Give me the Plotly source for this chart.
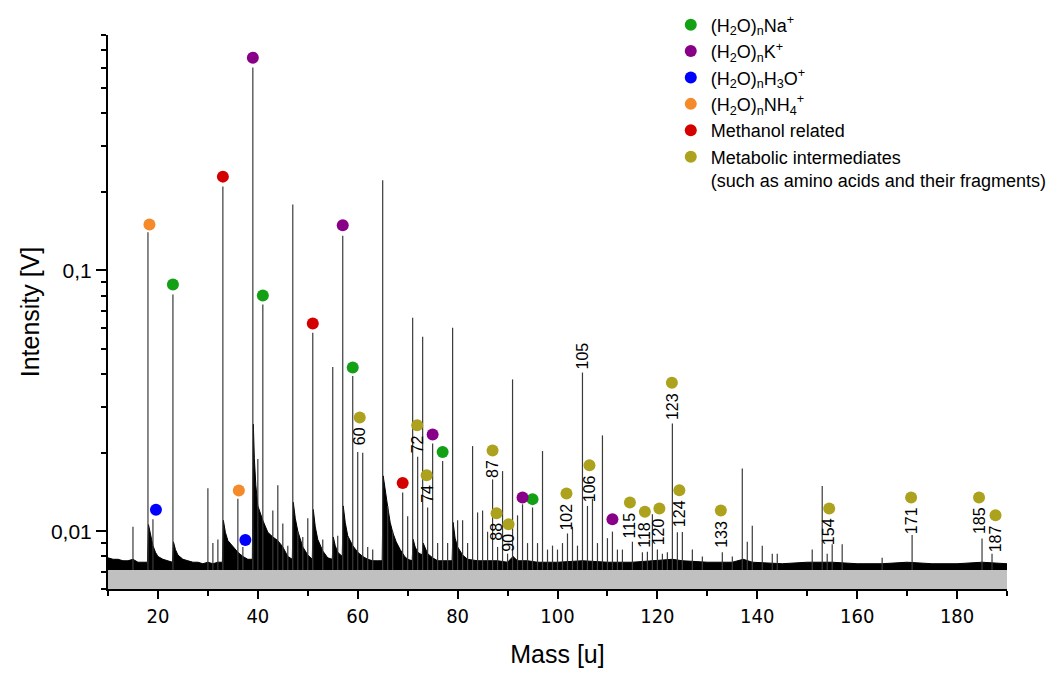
import numpy as np
import plotly.graph_objects as go

# ---------------- data ----------------
# peak list (mass [u], intensity [V])
peak_mass = [15, 18, 19, 23, 30, 31, 32, 33, 36, 37, 39, 40, 41, 43, 44, 45, 46, 47, 48, 49, 50,
             51, 53, 55, 56, 57, 58, 59, 60, 61, 62, 63, 65, 66, 67, 69, 70, 71, 72, 73, 74, 75,
             76, 77, 78, 79, 80, 81, 82, 83, 84, 85, 86, 87, 88, 89, 90, 91, 92, 93, 94, 95, 96,
             97, 98, 99, 100, 101, 102, 103, 104, 105, 106, 107, 108, 109, 110, 111, 112, 113,
             115, 117, 118, 119, 120, 121, 122, 123, 124, 125, 127, 129, 133, 135, 137, 138, 139,
             141, 143, 144, 151, 153, 154, 155, 157, 165, 171, 185, 187]
peak_int = [0.0104, 0.140, 0.0111, 0.0809, 0.0146, 0.0090, 0.0093, 0.210, 0.0133, 0.0087, 0.601,
            0.0189, 0.0741, 0.0120, 0.0150, 0.0107, 0.0088, 0.179, 0.0100, 0.0095, 0.0112,
            0.0577, 0.0093, 0.0426, 0.0096, 0.136, 0.0095, 0.0394, 0.0201, 0.0200, 0.0087, 0.0085,
            0.222, 0.0125, 0.0100, 0.01406, 0.0114, 0.0659, 0.0193, 0.0557, 0.01233, 0.0217,
            0.0090, 0.0186, 0.0090, 0.0603, 0.0110, 0.0110, 0.0090, 0.0212, 0.0118, 0.0120, 0.00995,
            0.0158, 0.0087, 0.0170, 0.0082, 0.0382, 0.0115, 0.01268, 0.0090, 0.01233, 0.0090,
            0.0203, 0.0085, 0.0088, 0.0085, 0.0090, 0.0098, 0.0104, 0.0088, 0.0406, 0.0125, 0.0133,
            0.0090, 0.0233, 0.0094, 0.00996, 0.0085, 0.0085,
            0.00911, 0.0083, 0.00834, 0.0116, 0.00851, 0.0082, 0.0083, 0.0259, 0.0099, 0.00993,
            0.0085, 0.0080, 0.0083, 0.0080, 0.01738, 0.0091, 0.0105,
            0.0088, 0.0082, 0.0082, 0.0085, 0.0149, 0.0082, 0.0089, 0.0089, 0.0079, 0.00966,
            0.00937, 0.0082]

# noise floor / decay tails envelope (mass, intensity)
env_mass = [10, 11, 12, 13, 14, 15, 16, 17, 17.9,
            18.1, 18.5, 19, 19.5, 20, 21, 22, 22.9,
            23.1, 23.5, 24, 25, 26, 27, 28, 29, 30, 31, 32, 32.9,
            33.1, 33.5, 34, 35, 36, 37, 38, 38.9,
            39.1, 39.3, 39.6, 40, 40.5, 41, 42, 43, 44, 45, 46, 46.9,
            47.1, 47.5, 48, 49, 50, 50.9,
            51.1, 51.5, 52, 53, 54, 54.9,
            55.1, 55.5, 56, 56.9,
            57.1, 57.5, 58, 59, 60, 61, 62, 63, 64, 64.9,
            65.1, 65.5, 66, 66.5, 67, 67.7, 68.5, 69.4, 70, 70.9,
            71.1, 71.5, 72, 72.9, 73.1, 74, 75, 76, 77, 78, 78.9,
            79.1, 79.5, 80, 81, 82, 84, 86, 88, 90, 91.1, 92, 94, 96, 98, 100, 105, 110,
            115, 120, 123, 125, 130, 135, 137.2, 139, 145, 150, 155, 160, 165, 170, 175,
            180, 185, 190]
env_int = [0.0079, 0.0078, 0.0078, 0.0077, 0.0077, 0.0078, 0.0076, 0.0076, 0.0076,
           0.0106, 0.0096, 0.0088, 0.0083, 0.0080, 0.0078, 0.0077, 0.0076,
           0.0091, 0.0085, 0.0081, 0.0078, 0.0077, 0.0076, 0.0076, 0.0075, 0.0076, 0.0075, 0.0076, 0.0076,
           0.0110, 0.0099, 0.0092, 0.0087, 0.0083, 0.0080, 0.0078, 0.0078,
           0.0257, 0.0190, 0.0150, 0.0125, 0.0116, 0.0110, 0.0099, 0.0095, 0.0092, 0.0087, 0.0080, 0.0078,
           0.0129, 0.0112, 0.0100, 0.0087, 0.0081, 0.0078,
           0.0121, 0.0104, 0.0093, 0.0084, 0.0079, 0.0078,
           0.0095, 0.0088, 0.0083, 0.0080,
           0.0125, 0.0108, 0.0096, 0.0088, 0.0083, 0.0080, 0.0078, 0.0077, 0.0077, 0.0077,
           0.0163, 0.0142, 0.0124, 0.0108, 0.0099, 0.0091, 0.0085, 0.0080, 0.0078, 0.0077,
           0.0093, 0.0087, 0.0083, 0.0081, 0.0090, 0.0082, 0.0079, 0.0077, 0.0077, 0.0077, 0.0077,
           0.0108, 0.0094, 0.0087, 0.0081, 0.0078, 0.0077, 0.0077, 0.0077, 0.0076, 0.0080, 0.0077,
           0.0077, 0.0076, 0.0076, 0.0076, 0.0077, 0.0076,
           0.0076, 0.0077, 0.0078, 0.0077, 0.0076, 0.0076, 0.0078, 0.0076, 0.0075, 0.0076, 0.0076,
           0.0075, 0.0075, 0.0076, 0.0075, 0.0075, 0.0076, 0.0075]
floor_level = 0.0071

# marker groups: (marker mass, marker height)
na_mass = [23, 41, 59, 77, 95]
na_y = [0.0884, 0.0802, 0.0424, 0.0201, 0.01327]
k_mass = [39, 57, 75, 93, 111]
k_y = [0.655, 0.149, 0.0235, 0.01346, 0.0111]
h3o_mass = [19.6, 37.5]
h3o_y = [0.01208, 0.00924]
nh4_mass = [18.3, 36.2]
nh4_y = [0.150, 0.01432]
meoh_mass = [33, 51, 69]
meoh_y = [0.229, 0.0626, 0.01531]
met_mass = [60.4, 71.9, 73.8, 87.0, 87.8, 90.2, 101.8, 106.4, 114.5, 117.5, 120.4, 122.9,
            124.4, 132.7, 154.4, 170.8, 184.4, 187.7]
met_y = [0.0273, 0.0255, 0.0164, 0.0204, 0.01172, 0.01064, 0.01394, 0.0179, 0.01288, 0.01186,
         0.01222, 0.0371, 0.01435, 0.0120, 0.01222, 0.01346, 0.01346, 0.0115]
met_labels = ["60", "72", "74", "87", "88", "90", "102", "106", "115", "118", "120", "123",
              "124", "133", "154", "171", "185", "187"]
extra_label_mass = [105]
extra_label_y = [0.0406]

# ---------------- figure ----------------
FONT = "Liberation Sans, Arial, sans-serif"
fig = go.Figure()

# gray floor
fig.add_trace(go.Scatter(x=[10, 190, 190, 10, 10], y=[0.0059, 0.0059, floor_level, floor_level, 0.0059],
                         fill="toself", fillcolor="#c0c0c0", mode="lines",
                         line=dict(width=0, color="#c0c0c0"), showlegend=False, hoverinfo="skip"))
# noise envelope
fig.add_trace(go.Scatter(x=env_mass, y=[floor_level] * len(env_mass), mode="lines",
                         line=dict(width=0, color="black"), showlegend=False, hoverinfo="skip"))
fig.add_trace(go.Scatter(x=env_mass, y=env_int, mode="lines", fill="tonexty",
                         fillcolor="black", line=dict(width=1, color="black"),
                         showlegend=False, hoverinfo="skip"))
# peak sticks
sx, sy = [], []
for m, v in zip(peak_mass, peak_int):
    sx += [m, m, None]
    sy += [floor_level, v, None]
fig.add_trace(go.Scatter(x=sx, y=sy, mode="lines", line=dict(width=1.2, color="#3a3a3a"),
                         showlegend=False, hoverinfo="skip"))

groups = [
    ("(H<sub>2</sub>O)<sub>n</sub>Na<sup>+</sup>", na_mass, na_y, "#14a014"),
    ("(H<sub>2</sub>O)<sub>n</sub>K<sup>+</sup>", k_mass, k_y, "#880088"),
    ("(H<sub>2</sub>O)<sub>n</sub>H<sub>3</sub>O<sup>+</sup>", h3o_mass, h3o_y, "#0000ff"),
    ("(H<sub>2</sub>O)<sub>n</sub>NH<sub>4</sub><sup>+</sup>", nh4_mass, nh4_y, "#f58a2a"),
    ("Methanol related", meoh_mass, meoh_y, "#d40000"),
    ("Metabolic intermediates<br>(such as amino acids and their fragments)", met_mass, met_y, "#aca21e"),
]
for i, (name, xs, ys, col) in enumerate(groups):
    fig.add_trace(go.Scatter(x=xs, y=ys, mode="markers", name=name, legendgroup=f"g{i}",
                             marker=dict(size=12, color=col, line=dict(width=0))))

annotations = []
for m, v, t in zip(met_mass, met_y, met_labels):
    annotations.append(dict(x=m, y=np.log10(v), text=t, textangle=-90, showarrow=False,
                            xanchor="center", yanchor="top", yshift=-8,
                            font=dict(family=FONT, size=16, color="black")))
for m, v in zip(extra_label_mass, extra_label_y):
    annotations.append(dict(x=m, y=np.log10(v), text=str(m), textangle=-90, showarrow=False,
                            xanchor="center", yanchor="bottom", yshift=1,
                            font=dict(family=FONT, size=16, color="black")))

minor_y = [0.006, 0.007, 0.008, 0.009] + [k * 0.01 for k in range(2, 10)] + [k * 0.1 for k in range(2, 9)]

fig.update_layout(
    width=1054, height=676,
    margin=dict(l=108, r=47, t=35, b=87, autoexpand=False),
    paper_bgcolor="white", plot_bgcolor="white",
    font=dict(family=FONT, color="black"),
    separators=", ",
    annotations=annotations,
    showlegend=True,
    legend=dict(x=0.626, y=1.0515, xanchor="left", yanchor="top", bgcolor="rgba(0,0,0,0)",
                font=dict(family=FONT, size=18, color="black"), traceorder="grouped",
                tracegroupgap=0, valign="top", itemwidth=30),
    xaxis=dict(range=[10, 190], showgrid=False, zeroline=False, showline=True, linecolor="black",
               linewidth=2, ticks="outside", ticklen=8, tickwidth=2, tickcolor="black",
               tickvals=[20, 40, 60, 80, 100, 120, 140, 160, 180],
               tickfont=dict(family="Liberation Sans Narrow, DejaVu Sans Condensed, Arial Narrow, sans-serif", size=20),
               minor=dict(tickvals=[10, 30, 50, 70, 90, 110, 130, 150, 170, 190], ticks="outside",
                          ticklen=5, tickwidth=2, tickcolor="black"),
               title=dict(text="Mass [u]", font=dict(family=FONT, size=25), standoff=18)),
    yaxis=dict(type="log", range=[np.log10(0.006), np.log10(0.8)], showgrid=False, zeroline=False,
               showline=True, linecolor="black", linewidth=2, ticks="outside", ticklen=10,
               tickwidth=2, tickcolor="black", tickvals=[0.01, 0.1], ticktext=["0,01", "0,1"],
               tickfont=dict(family=FONT, size=21),
               minor=dict(tickvals=minor_y, ticks="outside", ticklen=5, tickwidth=2, tickcolor="black"),
               title=dict(text="Intensity [V]", font=dict(family=FONT, size=25), standoff=4)),
)

fig.write_html("out.html")
